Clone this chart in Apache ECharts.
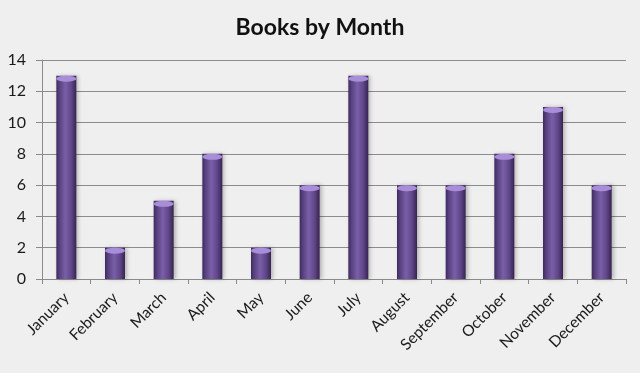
<!DOCTYPE html>
<html>
<head>
<meta charset="utf-8">
<script src="https://cdn.jsdelivr.net/npm/echarts@6/dist/echarts.min.js"></script>
<style>
html,body{margin:0;padding:0;background:#efefef;}
#c{width:640px;height:373px;}
</style>
</head>
<body>
<div id="c"></div>
<script>
var months = ['January','February','March','April','May','June','July','August','September','October','November','December'];
var books = [13, 2, 5, 8, 2, 6, 13, 6, 6, 8, 11, 6];
var yTicks = [0, 2, 4, 6, 8, 10, 12, 14];

var chart = echarts.init(document.getElementById('c'));
var font = 'Lato, "Open Sans", sans-serif';
chart.setOption({
  backgroundColor: '#efefef',
  animation: false,
  title: {
    text: 'Books by Month',
    left: 'center',
    top: 11,
    textStyle: {fontFamily: font, fontSize: 23, fontWeight: 'bold', color: '#111'}
  },
  grid: {left: 42, right: 14, top: 60, bottom: 94, containLabel: false},
  xAxis: {
    type: 'category',
    data: months,
    boundaryGap: true,
    axisLine: {show: true, lineStyle: {color: '#8a8a8a', width: 1}},
    axisTick: {show: true, length: 5, lineStyle: {color: '#8a8a8a'}},
    axisLabel: {rotate: 45, interval: 0, margin: 16, fontFamily: font, fontSize: 15.5, color: '#1a1a1a'}
  },
  yAxis: {
    type: 'value',
    min: yTicks[0],
    max: yTicks[yTicks.length - 1],
    interval: 2,
    axisLine: {show: true, lineStyle: {color: '#8a8a8a', width: 1}},
    axisTick: {show: true, length: 6, lineStyle: {color: '#8a8a8a'}},
    axisLabel: {margin: 16, fontFamily: font, fontSize: 16, color: '#1a1a1a'},
    splitLine: {show: true, lineStyle: {color: '#8c8c8c', width: 1}}
  },
  series: [
    {
      type: 'bar',
      data: books,
      barWidth: 20,
      itemStyle: {
        color: new echarts.graphic.LinearGradient(0, 0, 1, 0, [
          {offset: 0, color: '#3e2a60'},
          {offset: 0.15, color: '#56407e'},
          {offset: 0.45, color: '#7a5fa8'},
          {offset: 0.75, color: '#5f4689'},
          {offset: 1, color: '#37244f'}
        ]),
        shadowColor: 'rgba(0,0,0,0.25)',
        shadowBlur: 4,
        shadowOffsetX: 2,
        shadowOffsetY: 0
      },
      z: 2
    },
    {
      type: 'pictorialBar',
      data: books,
      symbol: 'circle',
      symbolSize: [20, 6],
      symbolPosition: 'end',
      symbolOffset: [0, 0],
      itemStyle: {color: '#a88ed8'},
      z: 3,
      silent: true
    }
  ]
});
</script>
</body>
</html>
